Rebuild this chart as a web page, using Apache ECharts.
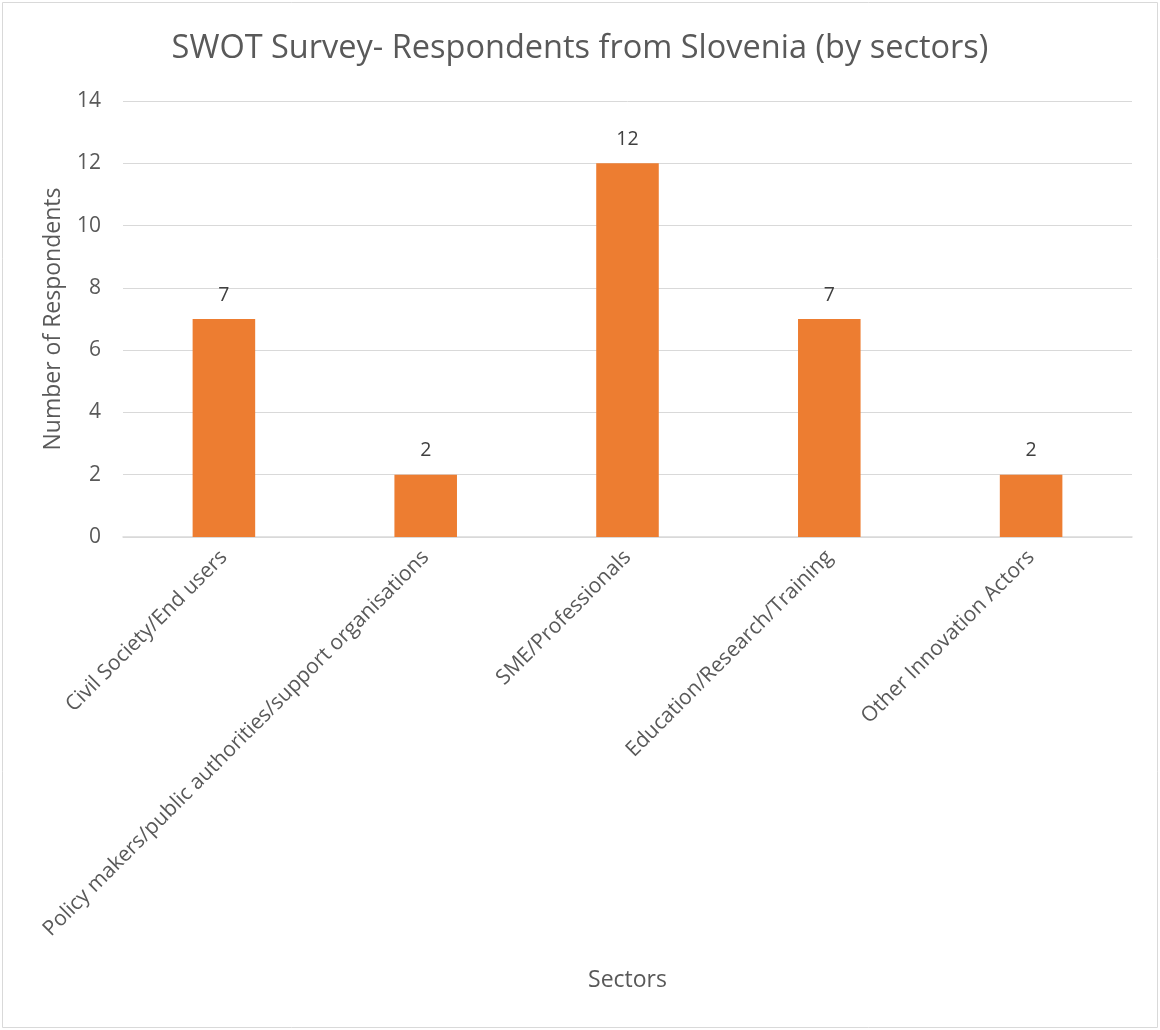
<!DOCTYPE html>
<html><head><meta charset="utf-8">
<script src="https://cdn.jsdelivr.net/npm/echarts@6/dist/echarts.min.js"></script>
<style>html,body{margin:0;padding:0;background:#fff}#c{width:1160px;height:1030px}</style>
</head><body><div id="c"></div>
<script>
const categories = ["Civil Society/End users", "Policy makers/public authorities/support organisations", "SME/Professionals", "Education/Research/Training", "Other Innovation Actors"];
const respondents = [7, 2, 12, 7, 2];
const titleText = "SWOT Survey- Respondents from Slovenia (by sectors)";
const yName = "Number of Respondents";
const xName = "Sectors";
const FONT = "Open Sans";
const chart = echarts.init(document.getElementById('c'));
chart.setOption({
  animation: false,
  textStyle: {fontFamily: FONT},
  title: {text: titleText, left: 'center', top: 27, textStyle: {fontFamily: FONT, fontSize: 32.5, fontWeight: 'normal', color: '#595959'}},
  graphic: [{type: 'rect', shape: {x: 2.5, y: 2.5, width: 1155, height: 1025}, style: {fill: 'none', stroke: '#d9d9d9', lineWidth: 1}}],
  grid: {left: 123, right: 28, top: 101, bottom: 493},
  xAxis: {
    type: 'category', data: categories,
    name: xName, nameLocation: 'middle', nameGap: 432,
    nameTextStyle: {fontSize: 23, color: '#595959', fontFamily: FONT},
    axisLine: {lineStyle: {color: '#d9d9d9', width: 1.5}},
    axisTick: {show: false},
    axisLabel: {rotate: 45, fontSize: 21, color: '#595959', margin: 17, interval: 0}
  },
  yAxis: {
    type: 'value', min: 0, max: 14, interval: 2,
    name: yName, nameLocation: 'middle', nameGap: 58, nameRotate: 90,
    nameTextStyle: {fontSize: 23, color: '#595959', fontFamily: FONT},
    axisLine: {show: false}, axisTick: {show: false},
    axisLabel: {fontSize: 21, color: '#595959', margin: 22},
    splitLine: {lineStyle: {color: '#d9d9d9', width: 1}}
  },
  series: [{
    type: 'bar', data: respondents, barWidth: '31%',
    itemStyle: {color: '#ED7D31'},
    label: {show: true, position: 'top', distance: 14, fontSize: 19.5, color: '#404040'}
  }]
});
</script></body></html>
